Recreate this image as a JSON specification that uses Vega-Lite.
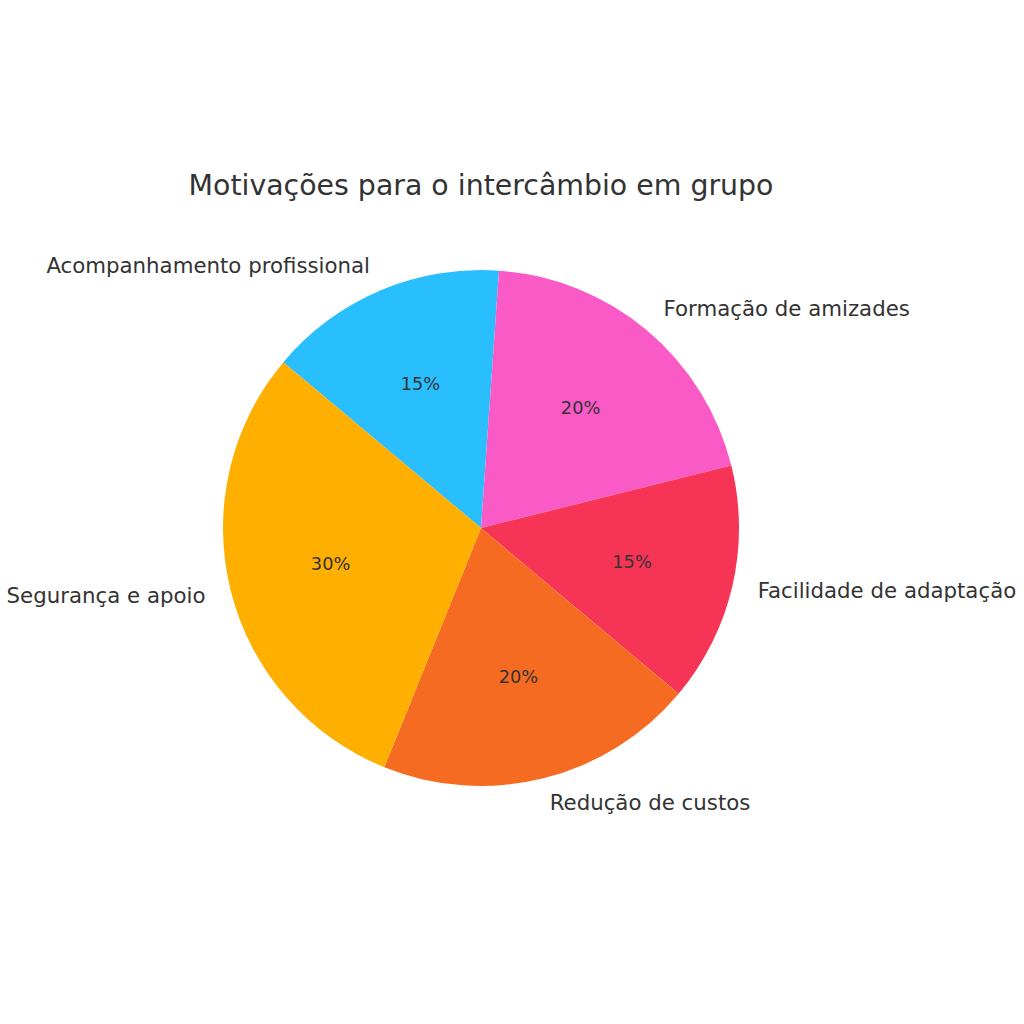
{
  "$schema": "https://vega.github.io/schema/vega-lite/v6.json",
  "autosize": "none",
  "padding": {"left": 0, "top": 228, "right": 62, "bottom": 0},
  "width": 962,
  "height": 600,
  "background": "white",
  "title": {
    "text": "Motivações para o intercâmbio em grupo",
    "font": "DejaVu Sans",
    "fontSize": 28.4,
    "fontWeight": "normal",
    "color": "#333333",
    "anchor": "middle",
    "frame": "group",
    "baseline": "alphabetic",
    "offset": 5
  },
  "config": {"view": {"stroke": null}},
  "data": {
    "values": [
      {"ord": 1, "label": "Acompanhamento profissional", "value": 15, "pct": "15%"},
      {"ord": 2, "label": "Formação de amizades", "value": 20, "pct": "20%"},
      {"ord": 3, "label": "Facilidade de adaptação", "value": 15, "pct": "15%"},
      {"ord": 4, "label": "Redução de custos", "value": 20, "pct": "20%"},
      {"ord": 5, "label": "Segurança e apoio", "value": 30, "pct": "30%"}
    ]
  },
  "encoding": {
    "theta": {
      "field": "value",
      "type": "quantitative",
      "stack": true,
      "scale": {"range": [5.41052, 11.69371]}
    },
    "order": {"field": "ord", "type": "quantitative", "sort": "ascending"}
  },
  "layer": [
    {
      "mark": {"type": "arc", "outerRadius": 258},
      "encoding": {
        "color": {
          "field": "label",
          "type": "nominal",
          "legend": null,
          "scale": {
            "domain": ["Acompanhamento profissional", "Formação de amizades", "Facilidade de adaptação", "Redução de custos", "Segurança e apoio"],
            "range": ["#29BFFE", "#F95AC5", "#F53456", "#F56B21", "#FFAF00"]
          }
        }
      }
    },
    {
      "mark": {"type": "text", "font": "DejaVu Sans", "fontSize": 17.8, "color": "#333333", "align": "center", "baseline": "middle"},
      "encoding": {
        "radius": {"value": 155},
        "text": {"field": "pct", "type": "nominal"}
      }
    },
    {
      "mark": {"type": "text", "font": "DejaVu Sans", "fontSize": 21.3, "color": "#333333", "align": "right", "baseline": "middle"},
      "encoding": {
        "radius": {"value": 284},
        "text": {
          "condition": {"test": "indexof(['Acompanhamento profissional', 'Segurança e apoio'], datum.label) >= 0", "field": "label", "type": "nominal"},
          "value": ""
        }
      }
    },
    {
      "mark": {"type": "text", "font": "DejaVu Sans", "fontSize": 21.3, "color": "#333333", "align": "left", "baseline": "middle"},
      "encoding": {
        "radius": {"value": 284},
        "text": {
          "condition": {"test": "indexof(['Acompanhamento profissional', 'Segurança e apoio'], datum.label) < 0", "field": "label", "type": "nominal"},
          "value": ""
        }
      }
    }
  ]
}
